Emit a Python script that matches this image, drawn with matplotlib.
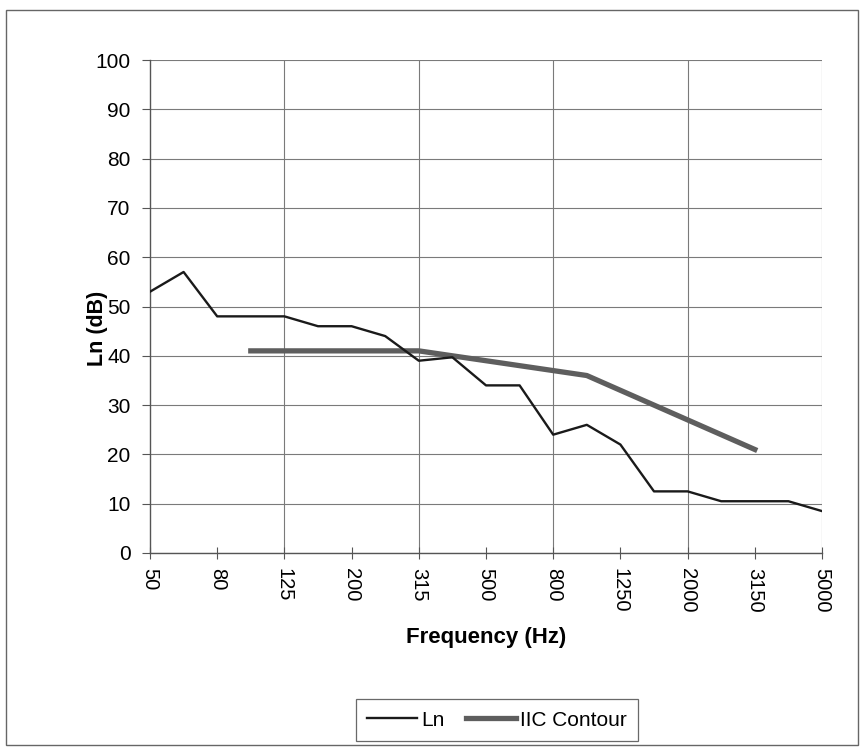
import numpy as np
import matplotlib
matplotlib.use("Agg")
import matplotlib.pyplot as plt
from matplotlib.patches import Rectangle

# 1/3 octave bands
freqs = ['50', '63', '80', '100', '125', '160', '200', '250', '315', '400', '500',
         '630', '800', '1000', '1250', '1600', '2000', '2500', '3150', '4000', '5000']
ln_vals = [53, 57, 48, 48, 48, 46, 46, 44, 39, 39.7, 34, 34, 24, 26, 22,
           12.5, 12.5, 10.5, 10.5, 10.5, 8.5]
# IIC contour runs from 100 Hz to 3150 Hz
iic_freqs = ['100', '125', '160', '200', '250', '315', '400', '500', '630', '800',
             '1000', '1250', '1600', '2000', '2500', '3150']
iic_vals = [41, 41, 41, 41, 41, 41, 40, 39, 38, 37, 36, 33, 30, 27, 24, 21]

plt.rcParams['font.family'] = ['Liberation Sans', 'DejaVu Sans']

fig = plt.figure(figsize=(8.64, 7.55), dpi=100)
ax = fig.add_axes([150/864, 1-553/755, 672/864, 493/755])

x = np.arange(len(freqs))
ix = [freqs.index(f) for f in iic_freqs]

ax.plot(x, ln_vals, color='#1a1a1a', lw=1.7, label='Ln', zorder=3)
ax.plot(ix, iic_vals, color='#5e5e5e', lw=3.8, label='IIC Contour', zorder=2)

ax.set_xlim(0, len(freqs)-1)
ax.set_ylim(0, 100)
ax.set_yticks(range(0, 101, 10))
ax.set_xticks(x[::2])
ax.set_xticklabels(freqs[::2], rotation=-90, fontsize=14.5)
ax.tick_params(axis='y', labelsize=15, length=6, color='#555', pad=8)
ax.tick_params(axis='x', direction='inout', length=8, color='#555', pad=7)

ax.grid(axis='y', color='#7a7a7a', lw=0.8)
for xv in x[4::4]:
    ax.axvline(xv, color='#7a7a7a', lw=0.8, zorder=1)

for s in ['top', 'right']:
    ax.spines[s].set_visible(False)
for s in ['left', 'bottom']:
    ax.spines[s].set_color('#555')
    ax.spines[s].set_linewidth(1.0)

ax.set_xlabel('Frequency (Hz)', fontsize=16, fontweight='bold', labelpad=10)
ax.set_ylabel('Ln (dB)', fontsize=15.5, fontweight='bold')
ax.yaxis.set_label_coords(-0.062, 0.456)

leg = fig.legend(loc='center', bbox_to_anchor=(497/864, 1-720/755), ncol=2,
                 fontsize=15, frameon=True, fancybox=False, handlelength=2.4,
                 columnspacing=1.0, handletextpad=0.2, borderpad=0.55)
leg.get_frame().set_edgecolor('#444')
leg.get_frame().set_linewidth(0.9)

fig.patches.append(Rectangle((6/864, 1-745/755), 852/864, 735/755,
                             transform=fig.transFigure, fill=False,
                             edgecolor='#666', lw=1.0))

fig.savefig('out.png', dpi=100)
